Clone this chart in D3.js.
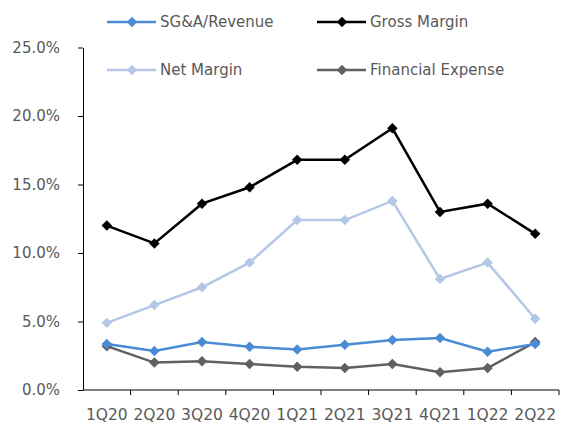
<!DOCTYPE html>
<html><head><meta charset="utf-8">
<script src="https://cdn.jsdelivr.net/npm/d3@7"></script>
<style>body{margin:0;background:#fff}svg{display:block}text{font-family:"DejaVu Sans",Verdana,sans-serif;fill:#595959}</style>
</head><body>
<script>
const categories=["1Q20","2Q20","3Q20","4Q20","1Q21","2Q21","3Q21","4Q21","1Q22","2Q22"];
const sgaRevenue=[3.35,2.85,3.5,3.15,2.95,3.3,3.65,3.8,2.8,3.35];
const grossMargin=[12.0,10.7,13.6,14.8,16.8,16.8,19.1,13.0,13.6,11.4];
const netMargin=[4.9,6.2,7.5,9.3,12.4,12.4,13.8,8.1,9.3,5.2];
const financialExpense=[3.2,2.0,2.1,1.9,1.7,1.6,1.9,1.3,1.6,3.5];
const yTicks=[0,5,10,15,20,25];
const seriesNames=["SG&A/Revenue","Gross Margin","Net Margin","Financial Expense"];
const seriesColors=["#4a8bd3","#000000","#b4c7e7","#606060"];
const seriesData=[sgaRevenue,grossMargin,netMargin,financialExpense];

const W=562,H=423;
const svg=d3.select("body").append("svg").attr("width",W).attr("height",H);
const x=d3.scaleBand().domain(categories).range([83,559]);
const y=d3.scaleLinear().domain([0,25]).range([390,47.5]);

const yAxis=d3.axisLeft(y).tickValues(yTicks).tickFormat(d=>d.toFixed(1)+"%").tickSize(5).tickSizeOuter(0);
const gy=svg.append("g").attr("transform","translate(83,0)").call(yAxis);
gy.select(".domain").attr("stroke","#000");
gy.selectAll(".tick line").attr("stroke","#000");
gy.selectAll(".tick text").attr("x",-23).attr("font-size",15).attr("font-family","DejaVu Sans").attr("fill","#595959");

const gx=svg.append("g").attr("transform","translate(0,390)");
gx.append("line").attr("x1",83).attr("x2",559).attr("y1",0).attr("y2",0).attr("stroke","#000");
gx.selectAll("line.tk").data(categories).join("line").attr("class","tk")
  .attr("x1",d=>x(d)+x.bandwidth()).attr("x2",d=>x(d)+x.bandwidth())
  .attr("y1",0).attr("y2",5).attr("stroke","#000");
gx.selectAll("text").data(categories).join("text")
  .attr("x",d=>x(d)+x.bandwidth()/2).attr("y",30).attr("text-anchor","middle").attr("font-size",15.5).text(d=>d);

const line=d3.line().x((d,i)=>x(categories[i])+x.bandwidth()/2).y(d=>y(d));
const diamond=d3.symbol().type(d3.symbolSquare).size(55);
const order=[2,3,0,1];
order.forEach(k=>{
  const g=svg.append("g");
  g.append("path").datum(seriesData[k]).attr("d",line).attr("fill","none").attr("stroke",seriesColors[k]).attr("stroke-width",2.5);
  g.selectAll("path.m").data(seriesData[k]).join("path").attr("class","m")
    .attr("d",diamond).attr("fill",seriesColors[k])
    .attr("transform",(d,i)=>`translate(${x(categories[i])+x.bandwidth()/2},${y(d)}) rotate(45)`);
});

const legPos=[[107,22],[317,22],[107,70],[317,70]];
seriesNames.forEach((n,k)=>{
  const [lx,ly]=legPos[k];
  const g=svg.append("g").attr("transform",`translate(${lx},${ly})`);
  g.append("line").attr("x1",0).attr("x2",49).attr("y1",0).attr("y2",0).attr("stroke",seriesColors[k]).attr("stroke-width",2.5);
  g.append("path").attr("d",diamond).attr("fill",seriesColors[k]).attr("transform","translate(25,0) rotate(45)");
  g.append("text").attr("x",53).attr("y",0).attr("dy","0.35em").attr("font-size",15).text(n);
});
</script>
</body></html>
